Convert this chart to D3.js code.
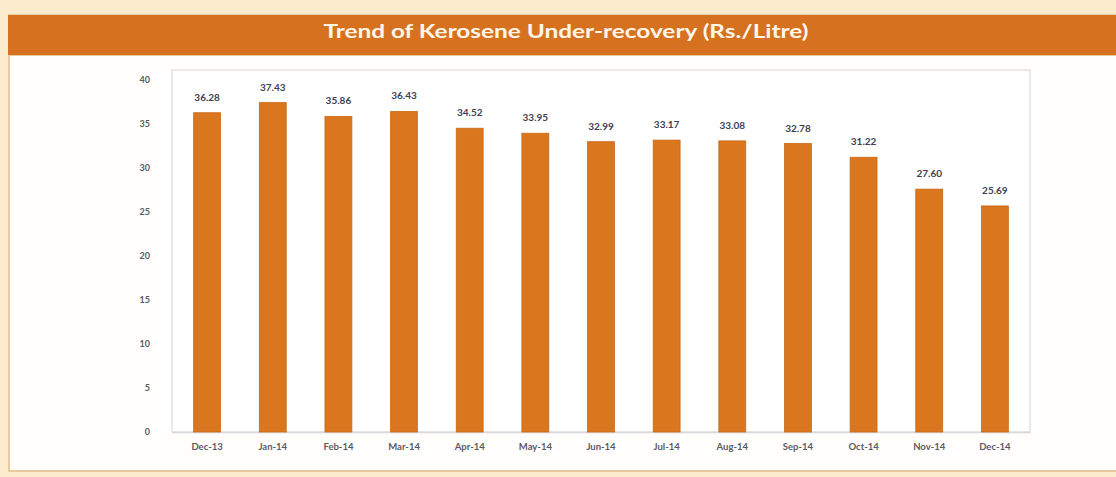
<!DOCTYPE html>
<html>
<head>
<meta charset="utf-8">
<script src="https://cdn.jsdelivr.net/npm/d3@7"></script>
<style>
  html, body { margin: 0; padding: 0; background: #fcebcc; }
  svg { display: block; }
</style>
</head>
<body>
<svg id="chart" width="1116" height="477"></svg>
<script>
// Monthly kerosene under-recovery, Rs. per litre
const months = ["Dec-13", "Jan-14", "Feb-14", "Mar-14", "Apr-14", "May-14", "Jun-14",
                "Jul-14", "Aug-14", "Sep-14", "Oct-14", "Nov-14", "Dec-14"];
const underRecovery = [36.28, 37.43, 35.86, 36.43, 34.52, 33.95, 32.99,
                       33.17, 33.08, 32.78, 31.22, 27.60, 25.69];
const yTicks = [0, 5, 10, 15, 20, 25, 30, 35, 40];
const title = "Trend of Kerosene Under-recovery (Rs./Litre)";

const W = 1116, H = 477;
const svg = d3.select("#chart");

// page background, header band and white panel
svg.append("rect").attr("x", 0).attr("y", 0).attr("width", W).attr("height", H).attr("fill", "#fcebcc");
svg.append("rect").attr("x", 8).attr("y", 14).attr("width", W - 8).attr("height", 458).attr("fill", "#e9c9a0");
svg.append("rect").attr("x", 10).attr("y", 56).attr("width", W - 10).attr("height", 414).attr("fill", "#fffefc");
svg.append("rect").attr("x", 8).attr("y", 15).attr("width", W - 8).attr("height", 40).attr("fill", "#d6721f");

svg.append("text")
  .attr("x", 566).attr("y", 38)
  .attr("text-anchor", "middle")
  .attr("font-family", "Lato, 'Open Sans', sans-serif")
  .attr("font-weight", "bold")
  .attr("font-size", 19)
  .attr("textLength", 485)
  .attr("lengthAdjust", "spacingAndGlyphs")
  .attr("fill", "#fff6ea")
  .text(title);

// plot area
const plot = { left: 172, right: 1030, top: 70, bottom: 432 };

const x = d3.scaleBand()
  .domain(months)
  .range([plot.left, plot.right])
  .paddingInner(0.59)
  .paddingOuter(0.33);

const y = d3.scaleLinear()
  .domain([0, 40])
  .range([plot.bottom, 80]);

// light frame round the plot
svg.append("rect")
  .attr("x", plot.left).attr("y", plot.top)
  .attr("width", plot.right - plot.left).attr("height", plot.bottom - plot.top)
  .attr("fill", "#ffffff")
  .attr("stroke", "#e2e2e4").attr("stroke-width", 1.5);

// y axis labels
const yAxis = d3.axisLeft(y).tickValues(yTicks).tickSize(0).tickPadding(22);
const gy = svg.append("g").attr("transform", `translate(${plot.left},0)`).call(yAxis);
gy.select(".domain").remove();
gy.selectAll("text")
  .attr("font-family", "Lato, 'Open Sans', sans-serif")
  .attr("font-size", 9).attr("font-weight", "bold")
  .attr("fill", "#5a5a64");

// x axis labels
const xAxis = d3.axisBottom(x).tickSize(0).tickPadding(11);
const gx = svg.append("g").attr("transform", `translate(0,${plot.bottom})`).call(xAxis);
gx.select(".domain").attr("stroke", "#d8d8dc").attr("stroke-width", 1.5);
gx.selectAll("text")
  .attr("font-family", "Lato, 'Open Sans', sans-serif")
  .attr("font-size", 9.5).attr("font-weight", "bold")
  .attr("fill", "#5a5a64");

// bars
svg.append("g").selectAll("rect")
  .data(months)
  .join("rect")
  .attr("x", d => x(d))
  .attr("y", (d, i) => y(underRecovery[i]))
  .attr("width", x.bandwidth())
  .attr("height", (d, i) => y(0) - y(underRecovery[i]))
  .attr("fill", "#d9761e")
  .attr("stroke", "#c96a18").attr("stroke-width", 0.8);

// value labels above bars
svg.append("g").selectAll("text")
  .data(months)
  .join("text")
  .attr("x", d => x(d) + x.bandwidth() / 2)
  .attr("y", (d, i) => y(underRecovery[i]) - 12)
  .attr("text-anchor", "middle")
  .attr("font-family", "Lato, 'Open Sans', sans-serif")
  .attr("font-size", 10).attr("font-weight", "bold")
  .attr("fill", "#3d4150")
  .text((d, i) => underRecovery[i].toFixed(2));
</script>
</body>
</html>
